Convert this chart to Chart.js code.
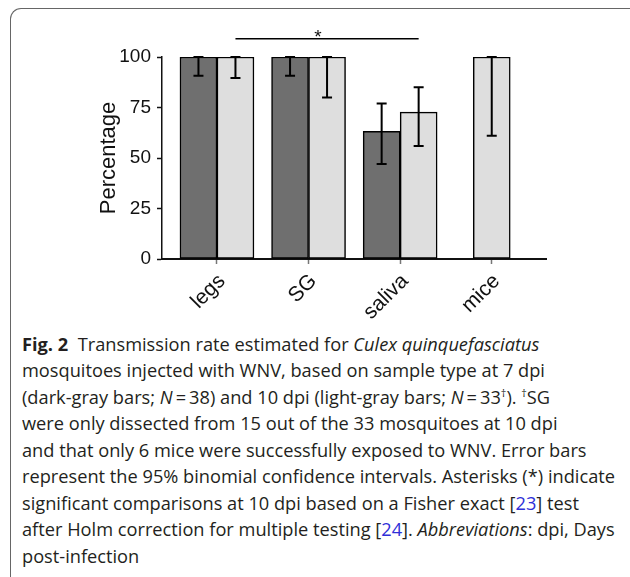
<!DOCTYPE html>
<html><head><meta charset="utf-8">
<script src="https://cdn.jsdelivr.net/npm/chart.js@4.4.1/dist/chart.umd.min.js"></script>
<style>
html,body{margin:0;padding:0;background:#fff;width:630px;height:577px;overflow:hidden;}
#frame{position:absolute;left:10px;top:8px;width:640px;height:580px;border-top:1.3px solid #666;border-left:1.3px solid #666;border-top-left-radius:11px;box-sizing:border-box;}
#wrap{position:absolute;left:0;top:0;width:630px;height:330px;}
#cap{position:absolute;left:22px;top:330.7px;font-family:"Open Sans";font-size:17.5px;color:#231f20;transform-origin:0 0;white-space:nowrap;}
#cap div{height:26.5px;line-height:26.5px;}
.l{color:#2f2fd8}
sup{font-size:0.6em;vertical-align:0.7em;line-height:0}
</style></head>
<body>
<div id="frame"></div>
<div id="wrap"><canvas id="c"></canvas></div>
<div id="cap">
<div><b>Fig. 2</b>&nbsp; Transmission rate estimated for <i>Culex quinquefasciatus</i></div>
<div>mosquitoes injected with WNV, based on sample type at 7 dpi</div>
<div>(dark-gray bars; <i>N</i>&#8201;=&#8201;38) and 10 dpi (light-gray bars; <i>N</i>&#8201;=&#8201;33<sup>†</sup>). <sup>†</sup>SG</div>
<div>were only dissected from 15 out of the 33 mosquitoes at 10 dpi</div>
<div>and that only 6 mice were successfully exposed to WNV. Error bars</div>
<div id="ref">represent the 95% binomial confidence intervals. Asterisks (*) indicate</div>
<div>significant comparisons at 10 dpi based on a Fisher exact [<span class="l">23</span>] test</div>
<div>after Holm correction for multiple testing [<span class="l">24</span>]. <i>Abbreviations</i>: dpi, Days</div>
<div>post-infection</div>
</div>
<script>
const categories = ['legs', 'SG', 'saliva', 'mice'];
const yTicks = [0, 25, 50, 75, 100];
const dpi7 = [100, 100, 63.2, null];
const dpi7Low = [90.7, 90.7, 47, null];
const dpi7High = [100, 100, 77, null];
const dpi10 = [100, 100, 72.7, 100];
const dpi10Low = [89.6, 80, 55.9, 61];
const dpi10High = [100, 100, 85, 100];
const sigFrom = 0, sigTo = 2, sigLevel = 109, sigLabel = '*';

// caption width fit
(function(){
  const cap = document.getElementById('cap');
  const ref = document.getElementById('ref');
  const span = document.createElement('span');
  span.textContent = ref.textContent;
  ref.textContent = '';
  ref.appendChild(span);
  const tw = span.getBoundingClientRect().width;
  cap.style.transform = 'scaleX(' + (593 / tw) + ')';
})();

const errLow = [dpi7Low, dpi10Low];
const errHigh = [dpi7High, dpi10High];

const errorBars = {
  id: 'errorBars',
  afterDatasetsDraw(chart) {
    const ctx = chart.ctx, y = chart.scales.y;
    ctx.save();
    ctx.strokeStyle = '#000';
    ctx.lineWidth = 2;
    chart.data.datasets.forEach((ds, di) => {
      const meta = chart.getDatasetMeta(di);
      meta.data.forEach((el, i) => {
        const lo = errLow[di][i], hi = errHigh[di][i];
        if (lo == null || hi == null) return;
        const x = el.x, y1 = y.getPixelForValue(lo), y2 = y.getPixelForValue(hi);
        ctx.beginPath();
        ctx.moveTo(x, y1); ctx.lineTo(x, y2);
        ctx.moveTo(x - 5, y1); ctx.lineTo(x + 5, y1);
        ctx.moveTo(x - 5, y2); ctx.lineTo(x + 5, y2);
        ctx.stroke();
      });
    });
    ctx.restore();
  }
};

const sigBar = {
  id: 'sigBar',
  afterDraw(chart) {
    const ctx = chart.ctx, meta = chart.getDatasetMeta(1);
    const x1 = meta.data[sigFrom].x, x2 = meta.data[sigTo].x;
    const yy = chart.scales.y.getPixelForValue(sigLevel);
    ctx.save();
    ctx.strokeStyle = '#000';
    ctx.lineWidth = 1.6;
    ctx.beginPath(); ctx.moveTo(x1, yy); ctx.lineTo(x2, yy); ctx.stroke();
    ctx.fillStyle = '#111';
    ctx.font = '19px "Liberation Sans"';
    ctx.textAlign = 'center';
    ctx.textBaseline = 'alphabetic';
    ctx.fillText(sigLabel, x1 + 0.45 * (x2 - x1), yy + 4);
    ctx.restore();
  }
};

new Chart(document.getElementById('c'), {
  type: 'bar',
  data: {
    datasets: [
      { label: '7 dpi', data: dpi7.map((v, i) => ({ x: i, y: v })), backgroundColor: '#6f6f6f', borderColor: '#000', borderWidth: 1.5, borderSkipped: false },
      { label: '10 dpi', data: dpi10.map((v, i) => ({ x: i, y: v })), backgroundColor: '#dedede', borderColor: '#000', borderWidth: 1.5, borderSkipped: false }
    ]
  },
  options: {
    responsive: true,
    maintainAspectRatio: false,
    animation: false,
    skipNull: true,
    barThickness: 37,
    layout: { padding: { left: 82, right: 83.3, top: 57, bottom: 11 } },
    plugins: { legend: { display: false }, tooltip: { enabled: false } },
    scales: {
      x: {
        type: 'linear', min: -0.6, max: 3.6, bounds: 'data', offset: false,
        afterBuildTicks: s => { s.ticks = categories.map((c, i) => ({ value: i })); },
        ticks: { autoSkip: false, maxRotation: 45, minRotation: 45, callback: v => categories[v],
          font: { family: 'Liberation Sans', size: 21 }, color: '#111', padding: 5, labelOffset: 5 },
        grid: { offset: false, drawOnChartArea: false, drawTicks: true, tickLength: 5, tickColor: '#777', tickWidth: 1.5 },
        border: { display: true, color: '#111', width: 2 },
        afterFit: s => { s.height = 60; }
      },
      y: {
        min: 0, max: 100,
        afterBuildTicks: s => { s.ticks = yTicks.map(v => ({ value: v })); },
        ticks: { font: { family: 'Liberation Sans', size: 19 }, color: '#111', padding: 6 },
        grid: { drawOnChartArea: false, tickLength: 5, tickColor: '#111', tickWidth: 1.5 },
        border: { display: true, color: '#111', width: 1.5 },
        title: { display: true, text: 'Percentage', font: { family: 'Liberation Sans', size: 22 }, color: '#111', padding: { top: 14, bottom: 0 } },
        afterFit: s => { s.width = 80; }
      }
    }
  },
  plugins: [errorBars, sigBar]
});
</script>
</body></html>
